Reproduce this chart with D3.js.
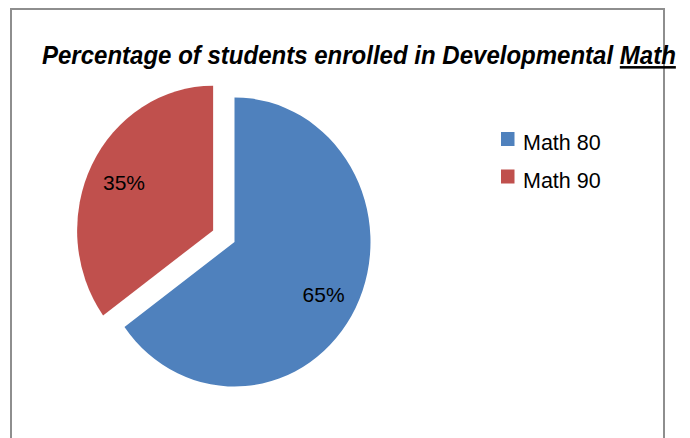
<!DOCTYPE html>
<html>
<head>
<meta charset="utf-8">
<script src="https://cdn.jsdelivr.net/npm/d3@7"></script>
<style>
  html, body { margin: 0; padding: 0; background: #fff; }
  svg { display: block; }
</style>
</head>
<body>
<svg id="chart" width="690" height="438"></svg>
<script>
const titleMain = "Percentage of students enrolled in Developmental ";
const titleUnderlined = "Math";
const categories = ["Math 80", "Math 90"];
const values = [65, 35];
const labels = ["65%", "35%"];
const colors = ["#4F81BD", "#C0504D"];

const svg = d3.select("#chart");

// chart border
svg.append("rect")
  .attr("x", 11).attr("y", 9)
  .attr("width", 653).attr("height", 470)
  .attr("fill", "#fff")
  .attr("stroke", "#8e8e8e")
  .attr("stroke-width", 2);

// title: drawn then squeezed horizontally to the reference width
const title = svg.append("text")
  .attr("x", 0).attr("y", 0)
  .attr("font-family", "'Liberation Sans', Arial, sans-serif")
  .attr("font-weight", "bold")
  .attr("font-style", "italic")
  .attr("font-size", 25.5)
  .attr("fill", "#000");
title.append("tspan").text(titleMain);
title.append("tspan").text(titleUnderlined).style("text-decoration", "underline");
const tw = title.node().getComputedTextLength();
title.attr("transform", `translate(42,64) scale(${634 / tw},1)`);

// pie
const cx = 234.5, cy = 242, r = 136, sy = 1.063, explode = 24;
const pie = d3.pie().sort(null).value(d => d)
  .startAngle(0).endAngle(2 * Math.PI);
const arcs = pie(values);
const arc = d3.arc().innerRadius(0).outerRadius(r);

const g = svg.append("g")
  .attr("transform", `translate(${cx},${cy}) scale(1,${sy})`);

arcs.forEach((a, i) => {
  const mid = (a.startAngle + a.endAngle) / 2;
  const off = i === 1 ? explode : 0;
  const dx = off * Math.sin(mid), dy = -off * Math.cos(mid);
  g.append("path")
    .attr("d", arc(a))
    .attr("transform", `translate(${dx},${dy})`)
    .attr("fill", colors[i]);

  const lr = 100 + off;
  const lx = cx + lr * Math.sin(mid);
  const ly = cy - lr * Math.cos(mid) * sy;
  svg.append("text")
    .attr("x", lx).attr("y", ly + 8 + (i === 0 ? 4 : 0))
    .attr("text-anchor", "middle")
    .attr("font-family", "'Liberation Sans', Arial, sans-serif")
    .attr("font-size", 21)
    .attr("fill", "#000")
    .text(labels[i]);
});

// legend
const legend = svg.append("g");
categories.forEach((c, i) => {
  const y0 = 132 + i * 37.5;
  legend.append("rect")
    .attr("x", 501).attr("y", y0)
    .attr("width", 13.5).attr("height", 14)
    .attr("fill", colors[i]);
  legend.append("text")
    .attr("x", 523).attr("y", y0 + 18)
    .attr("font-family", "'Liberation Sans', Arial, sans-serif")
    .attr("font-size", 21.5)
    .attr("fill", "#000")
    .text(c);
});
</script>
</body>
</html>
